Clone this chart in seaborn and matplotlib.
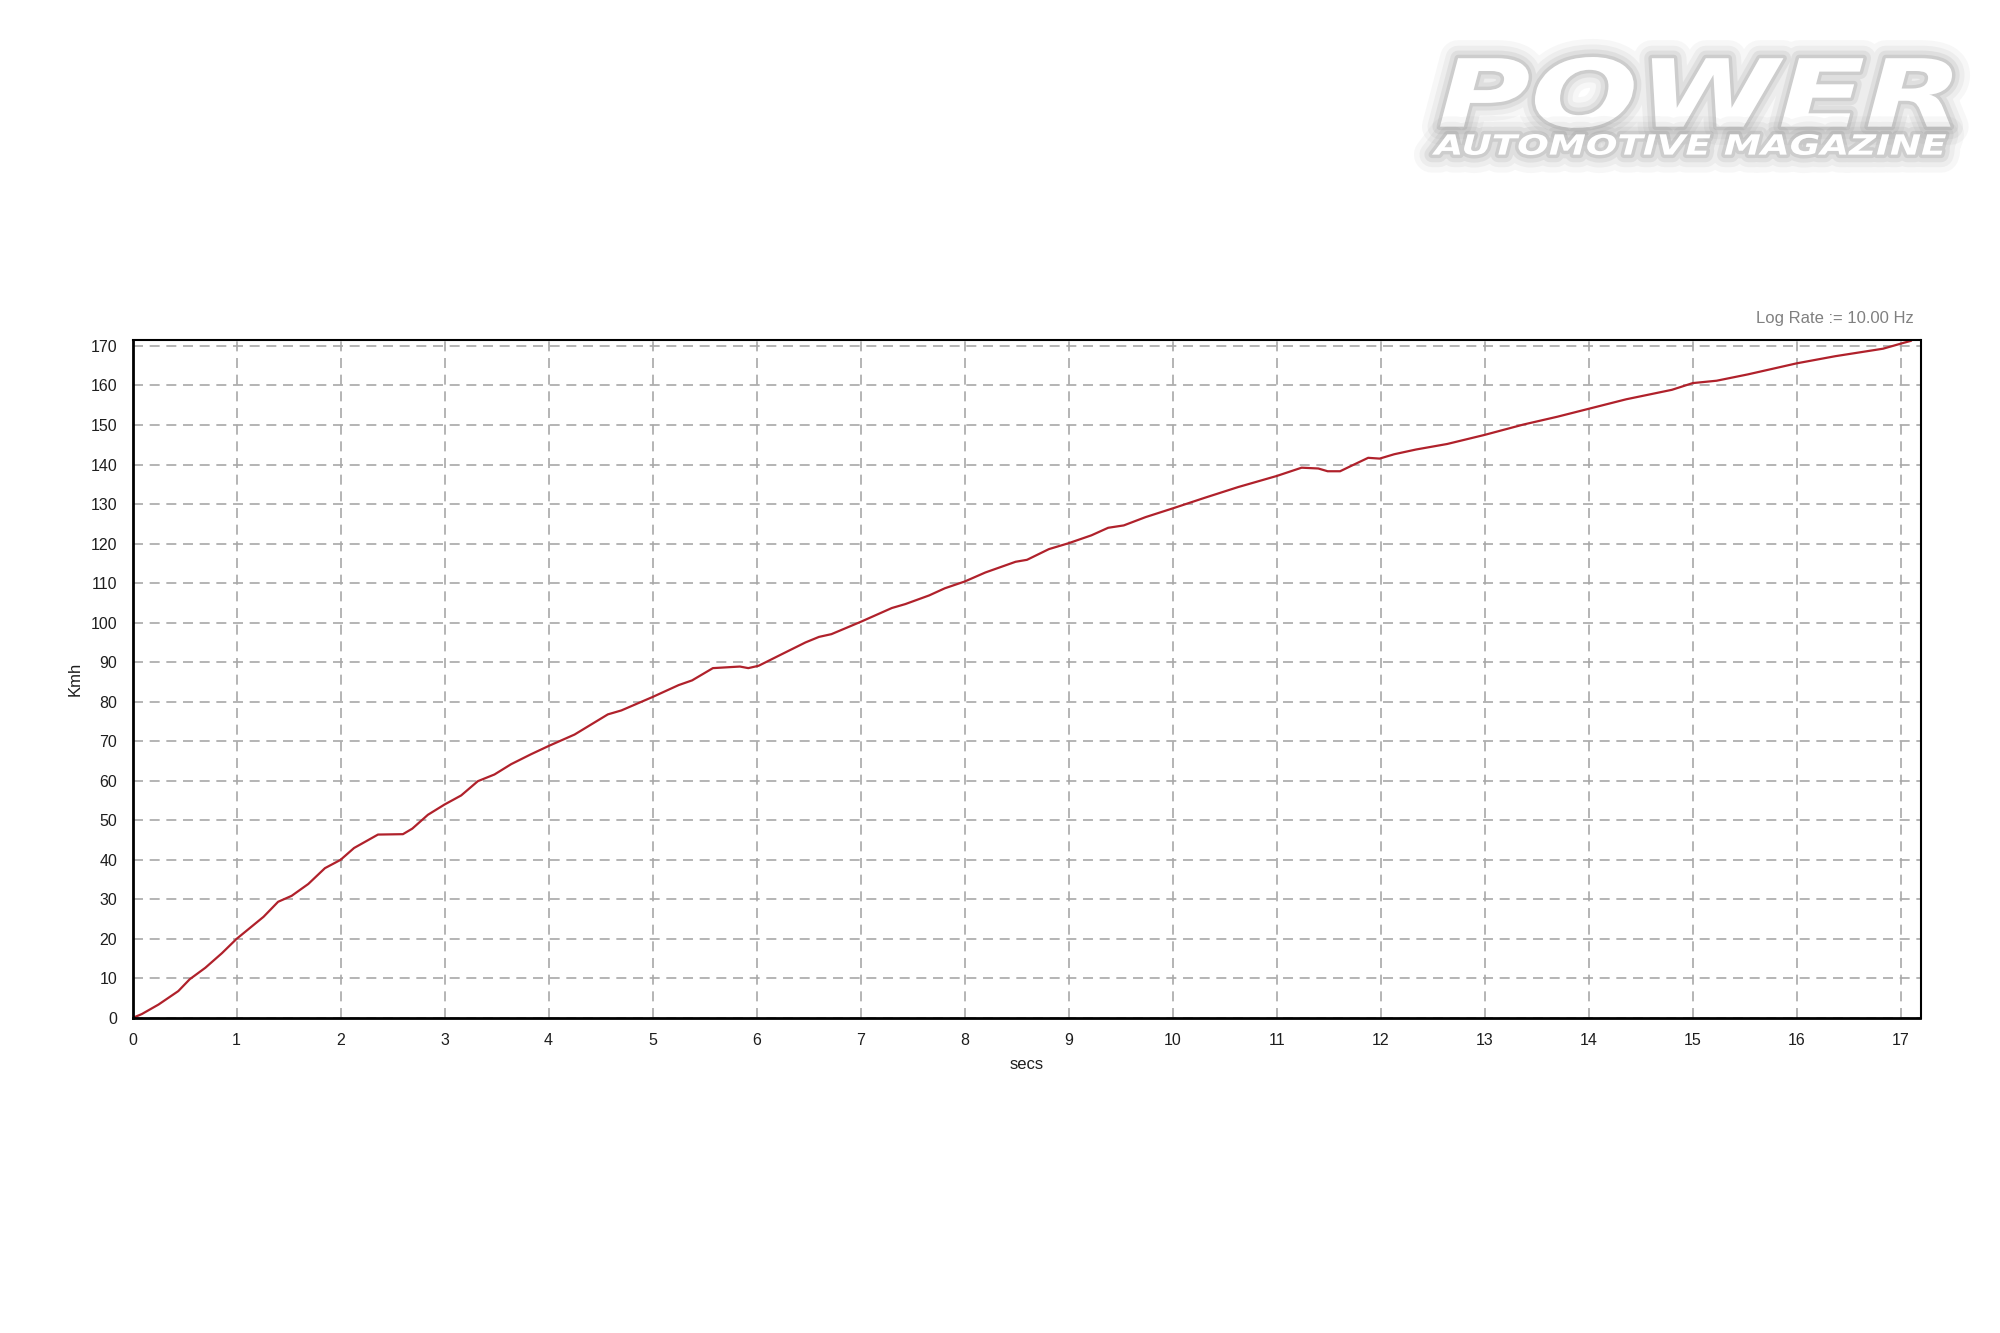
import numpy as np
import pandas as pd
import matplotlib
matplotlib.use("Agg")
import matplotlib.pyplot as plt
import matplotlib.patheffects as pe
from matplotlib.ticker import MultipleLocator
from matplotlib.textpath import TextPath
from matplotlib.patches import PathPatch
from matplotlib.font_manager import FontProperties
from matplotlib.transforms import Affine2D
import seaborn as sns

# speed trace (secs, km/h)
t_secs = [0.0, 0.09, 0.25, 0.44, 0.55, 0.70, 0.86, 1.0, 1.26, 1.40, 1.53, 1.69,
          1.85, 2.0, 2.13, 2.36, 2.60, 2.69, 2.84, 3.0, 3.16, 3.32, 3.48, 3.64,
          3.83, 4.0, 4.25, 4.57, 4.70, 5.0, 5.25, 5.38, 5.58, 5.84, 5.92, 6.02,
          6.21, 6.47, 6.60, 6.72, 7.0, 7.30, 7.43, 7.66, 7.81, 8.0, 8.2, 8.49,
          8.60, 8.81, 9.0, 9.22, 9.38, 9.53, 9.74, 10.0, 10.31, 10.63, 11.0,
          11.24, 11.40, 11.49, 11.61, 11.72, 11.88, 11.99, 12.13, 12.34, 12.64,
          13.0, 13.37, 13.70, 14.0, 14.36, 14.80, 15.0, 15.23, 15.53, 16.0,
          16.37, 16.83, 17.03, 17.1]
speed_kmh = [0.0, 1.0, 3.4, 6.8, 9.8, 12.7, 16.4, 20.0, 25.6, 29.4, 30.9, 33.9,
             37.9, 40.0, 43.0, 46.4, 46.5, 47.9, 51.4, 54.0, 56.3, 59.9, 61.6, 64.2,
             66.7, 68.8, 71.7, 76.8, 77.8, 81.2, 84.2, 85.4, 88.5, 88.9, 88.5, 89.1,
             91.6, 95.0, 96.4, 97.1, 100.2, 103.7, 104.7, 106.9, 108.7, 110.4, 112.7, 115.4,
             115.9, 118.6, 120.1, 122.1, 124.0, 124.6, 126.7, 128.9, 131.6, 134.3, 137.1,
             139.2, 139.0, 138.3, 138.3, 139.7, 141.7, 141.5, 142.6, 143.8, 145.2,
             147.5, 150.1, 152.1, 154.1, 156.5, 158.9, 160.6, 161.2, 162.8, 165.6,
             167.4, 169.3, 170.8, 171.3]

x_ticks = list(range(0, 18))
y_ticks = list(range(0, 171, 10))

LINE_RED = '#b0212b'
GRID_GRAY = '#a8a8a8'
TEXT_DARK = '#1e1e1e'

sns.set_style("white")
plt.rcParams['font.family'] = ['Liberation Sans', 'DejaVu Sans']

df = pd.DataFrame({"secs": t_secs, "Kmh": speed_kmh})

W, H = 2000, 1333
fig = plt.figure(figsize=(W / 100, H / 100), dpi=100, facecolor='white')
ax = fig.add_axes([132.5 / W, 1 - 1018 / H, (1920.5 - 132.5) / W, (1018 - 340) / H])

sns.lineplot(data=df, x="secs", y="Kmh", ax=ax, color=LINE_RED, linewidth=1.6)

ax.set_xlim(0, 17.19)
ax.set_ylim(0, 171.5)
ax.set_xticks(x_ticks)
ax.set_yticks(y_ticks)
ax.xaxis.set_minor_locator(MultipleLocator(0.25))
ax.yaxis.set_minor_locator(MultipleLocator(2))

ax.grid(True, which='major', color=GRID_GRAY, linestyle=(0, (6, 4)), linewidth=1.2)
ax.tick_params(axis='both', which='major', direction='out', length=7, width=1.6,
               colors='black', labelsize=11.5, labelcolor=TEXT_DARK, pad=4)
ax.tick_params(axis='both', which='minor', direction='out', length=4, width=1.4,
               colors='black')

for name, sp in ax.spines.items():
    sp.set_visible(True)
    sp.set_color('black')
    sp.set_linewidth(2.0 if name in ('left', 'bottom') else 1.5)

ax.set_xlabel("secs", fontsize=12, color=TEXT_DARK, labelpad=6)
ax.set_ylabel("Kmh", fontsize=12, color=TEXT_DARK, labelpad=6)

ax.annotate("Log Rate := 10.00 Hz", xy=(1.0, 1.0), xycoords='axes fraction',
            xytext=(-5, 10), textcoords='offset points',
            ha='right', va='bottom', fontsize=12, color='#808080')


# magazine logo, top right: text outlines stretched into a pixel box
def logo_text(s, box, weight):
    x0, y0, x1, y1 = box
    fp = FontProperties(family='DejaVu Sans', weight=weight, style='italic')
    tp = TextPath((0, 0), s, size=100, prop=fp)
    ext = tp.get_extents()
    sx = (x1 - x0) / W / ext.width
    sy = (y1 - y0) / H / ext.height
    tr = (Affine2D().translate(-ext.x0, -ext.y0).scale(sx, sy)
          .translate(x0 / W, 1 - y1 / H) + fig.transFigure)
    glow = [pe.Stroke(linewidth=lw, foreground='#959595', alpha=a,
                      joinstyle='round', capstyle='round')
            for lw, a in [(26, 0.07), (18, 0.10), (11, 0.15), (5, 0.24)]]
    glow.append(pe.Normal())
    patch = PathPatch(tp, transform=tr, facecolor='white', edgecolor='none',
                      path_effects=glow)
    fig.add_artist(patch)


logo_text("POWER", (1440, 57, 1952, 128), 'heavy')
logo_text("AUTOMOTIVE MAGAZINE", (1432, 134, 1946, 155), 'bold')

fig.savefig('out.png', dpi=100, facecolor='white')
